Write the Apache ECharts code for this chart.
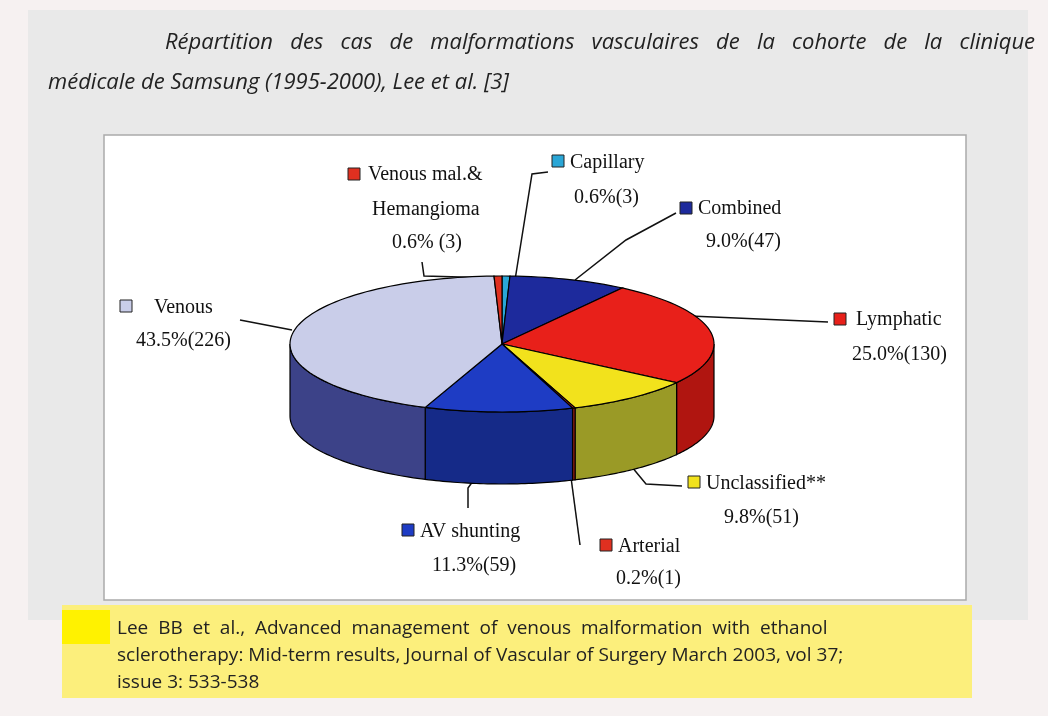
<!DOCTYPE html>
<html><head><meta charset="utf-8">
<script src="https://cdn.jsdelivr.net/npm/echarts@6/dist/echarts.min.js"></script>
<style>html,body{margin:0;padding:0;background:#f6f1f1}#c{width:1048px;height:716px}</style>
</head><body><div id="c"></div>
<script>
// slices clockwise from 12 o'clock
const names = ['Capillary', 'Combined', 'Lymphatic', 'Unclassified**', 'Arterial', 'AV shunting', 'Venous', 'Venous mal.& Hemangioma'];
const percents = [0.6, 9.0, 25.0, 9.8, 0.2, 11.3, 43.5, 0.6];
const counts = [3, 47, 130, 51, 1, 59, 226, 3];
const topColors = ['#2aa6d6', '#1d2a9c', '#e8201a', '#f2e21c', '#e03020', '#1e3cc4', '#c9cde9', '#e03020'];
const sideColors = ['#1a6a90', '#141c6a', '#b01510', '#9a9a26', '#a02015', '#152a88', '#3c4288', '#a02015'];

const cx = 502, cy = 344, rx = 212, ry = 68, depth = 72;
const pt = (deg, dy) => {
  const r = deg * Math.PI / 180;
  return [cx + rx * Math.sin(r), cy - ry * Math.cos(r) + (dy || 0)];
};

function renderSlice(params, api) {
  const i = params.dataIndex;
  let start = 0;
  for (let k = 0; k < i; k++) start += percents[k] * 3.6;
  const end = start + api.value(0) * 3.6;
  const children = [];
  // front wall
  const a = Math.max(start, 90), b = Math.min(end, 270);
  if (b > a) {
    const top = [], bot = [];
    for (let t = a; t <= b + 0.001; t += (b - a) / 40 || 1) { top.push(pt(t)); bot.unshift(pt(t, depth)); }
    children.push({ type: 'polygon', shape: { points: top.concat(bot) },
      style: { fill: sideColors[i], stroke: '#000', lineWidth: 1.2 } });
  }
  const pts = [[cx, cy]];
  const n = Math.max(2, Math.ceil((end - start) / 2));
  for (let s = 0; s <= n; s++) pts.push(pt(start + (end - start) * s / n));
  children.push({ type: 'polygon', z2: 10, shape: { points: pts },
    style: { fill: topColors[i], stroke: '#000', lineWidth: 1.2 } });
  return { type: 'group', children: children };
}

const chart = echarts.init(document.getElementById('c'));
const serif = '"Liberation Serif", "DejaVu Serif", serif';
const lbl = (x, y, text, align) => ({ type: 'text', left: x, top: y,
  style: { text: text, font: '20px ' + serif, fill: '#111', textAlign: align || 'left', lineHeight: 30 } });
const sq = (x, y, c) => ({ type: 'rect', shape: { x: x, y: y, width: 12, height: 12 },
  style: { fill: c, stroke: '#222', lineWidth: 1 } });
const ln = (pts) => ({ type: 'polyline', shape: { points: pts }, style: { stroke: '#111', lineWidth: 1.5, fill: null } });

chart.setOption({
  backgroundColor: '#f6f1f1',
  graphic: [
    { type: 'rect', shape: { x: 28, y: 10, width: 1000, height: 610 }, style: { fill: '#e9e9e9' }, z: -10 },
    { type: 'rect', shape: { x: 104, y: 135, width: 862, height: 465 }, style: { fill: '#fff', stroke: '#aaa', lineWidth: 1.5 }, z: -5 },
    { type: 'text', left: 165, top: 32, style: { text: 'Répartition   des   cas   de   malformations   vasculaires   de   la   cohorte   de   la   clinique', font: 'italic 22px "Open Sans", "Noto Sans", sans-serif', fill: '#222' } },
    { type: 'text', left: 48, top: 72, style: { text: 'médicale de Samsung (1995-2000), Lee et al. [3]', font: 'italic 22px "Open Sans", "Noto Sans", sans-serif', fill: '#222' } },
    { type: 'rect', shape: { x: 62, y: 605, width: 910, height: 93 }, style: { fill: '#fcef7c' }, z: -4 },
    { type: 'rect', shape: { x: 62, y: 610, width: 48, height: 34 }, style: { fill: '#fff200' }, z: -3 },
    { type: 'text', left: 117, top: 615, style: { text: 'Lee  BB  et  al.,  Advanced  management  of  venous  malformation  with  ethanol\nsclerotherapy: Mid-term results, Journal of Vascular of Surgery March 2003, vol 37;\nissue 3: 533-538', font: '19px "Open Sans", "Noto Sans", sans-serif', fill: '#222', lineHeight: 27 } },
    // labels
    sq(348, 168, topColors[7]), lbl(368, 160, 'Venous mal.&'), lbl(372, 195, 'Hemangioma'), lbl(392, 228, '0.6% (3)'),
    sq(552, 155, topColors[0]), lbl(570, 148, 'Capillary'), lbl(574, 183, '0.6%(3)'),
    sq(680, 202, topColors[1]), lbl(698, 194, 'Combined'), lbl(706, 227, '9.0%(47)'),
    sq(834, 313, topColors[2]), lbl(856, 305, 'Lymphatic'), lbl(852, 340, '25.0%(130)'),
    sq(120, 300, topColors[6]), lbl(154, 293, 'Venous'), lbl(136, 326, '43.5%(226)'),
    sq(688, 476, topColors[3]), lbl(706, 469, 'Unclassified**'), lbl(724, 503, '9.8%(51)'),
    sq(402, 524, topColors[5]), lbl(420, 517, 'AV shunting'), lbl(432, 551, '11.3%(59)'),
    sq(600, 539, topColors[4]), lbl(618, 532, 'Arterial'), lbl(616, 564, '0.2%(1)'),
    // leader lines
    ln([[422, 262], [424, 276], [497, 278]]),
    ln([[548, 172], [532, 174], [507, 330]]),
    ln([[676, 213], [626, 240], [575, 280]]),
    ln([[828, 322], [690, 316]]),
    ln([[240, 320], [292, 330]]),
    ln([[682, 486], [646, 484], [622, 455]]),
    ln([[468, 508], [468, 488], [488, 460]]),
    ln([[580, 545], [570, 470]])
  ],
  series: [{
    type: 'custom',
    coordinateSystem: 'none',
    renderItem: renderSlice,
    data: percents.map((p, i) => ({ name: names[i], value: [p, counts[i]] }))
  }]
});
</script></body></html>
